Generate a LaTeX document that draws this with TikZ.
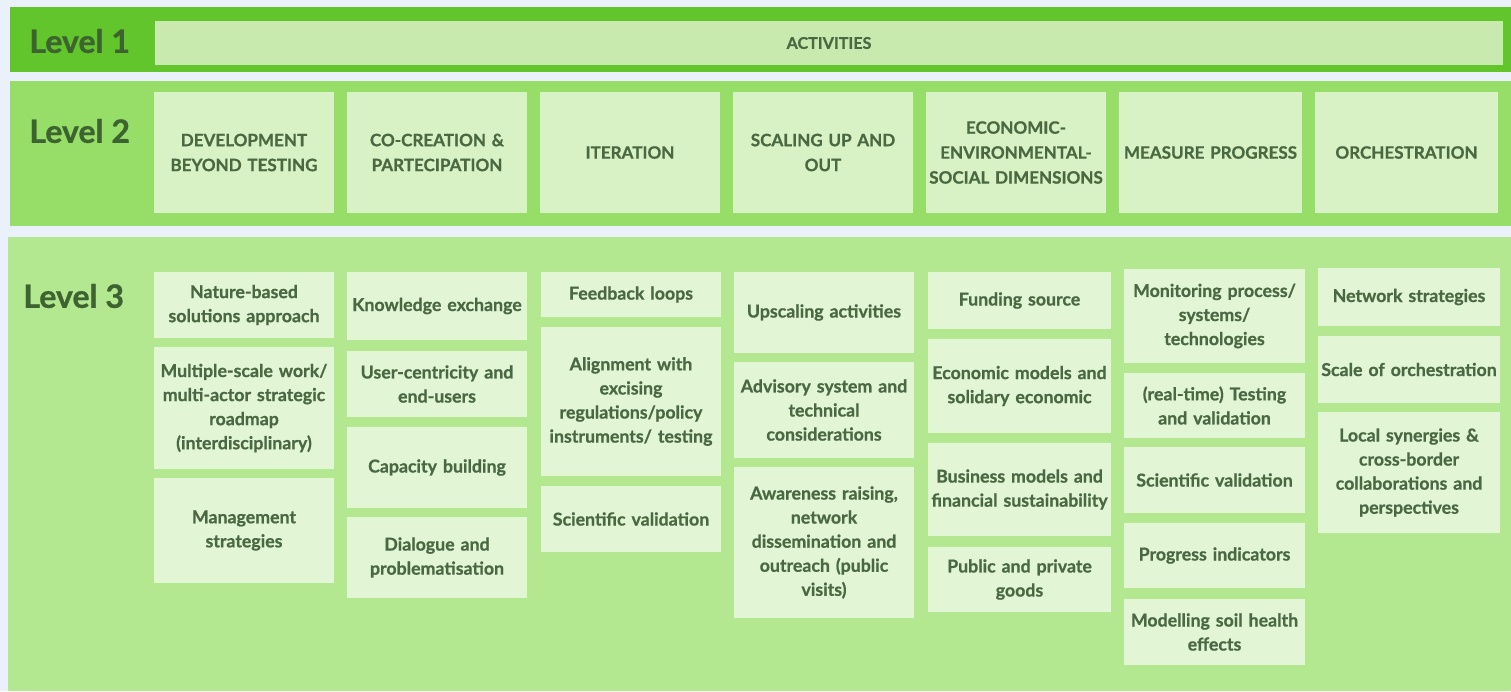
\documentclass[tikz,border=0pt]{standalone}
\usepackage{fontspec}
\setmainfont{Lato}[BoldFeatures={FakeBold=0.8}]
\definecolor{pagebg}{HTML}{EAF1FA}
\definecolor{bandone}{HTML}{62C52B}
\definecolor{boxone}{HTML}{C8EAAE}
\definecolor{bandtwo}{HTML}{97DE68}
\definecolor{boxtwo}{HTML}{D8F2C5}
\definecolor{bandthree}{HTML}{B3E890}
\definecolor{boxthree}{HTML}{E2F6D6}
\definecolor{txtgreen}{HTML}{4A6841}
\definecolor{lblgreen}{HTML}{3D6330}

\begin{document}
\begin{tikzpicture}[x=0.02cm, y=-0.02cm,
            level/.style={anchor=west, inner sep=0pt, text=lblgreen, font=\bfseries\fontsize{18.3}{20}\selectfont},
            head/.style={rectangle, fill=boxtwo, minimum width=3.6cm, minimum height=2.42cm, text width=3.6cm, inner sep=0pt, align=center, text=txtgreen, font=\bfseries\fontsize{9.7}{14.2}\selectfont},
            item/.style={rectangle, fill=boxthree, minimum width=3.6cm, text width=3.6cm, inner sep=0pt, align=center, text=txtgreen, font=\bfseries\fontsize{10.1}{13.7}\selectfont},
            wide/.style={minimum width=3.66cm, text width=3.66cm}
            ]

            % Page and bands
            \useasboundingbox[fill=pagebg] (0,0) rectangle (1511,691);
            \fill[bandone] (10,7) rectangle (1511,72);
            \fill[bandtwo] (10,81) rectangle (1511,226);
            \fill[bandthree] (8,237) rectangle (1511,691);

            % Level labels
            \node[level] (lone) at (29,41) {Level 1};
            \node[level] (ltwo) at (29,131) {Level 2};
            \node[level] (lthree) at (23,296) {Level 3};

            % Level 1
            \node[rectangle, fill=boxone, minimum width=26.96cm, minimum height=0.88cm, text=txtgreen, font=\bfseries\fontsize{9.2}{10}\selectfont] (activities) at (829,43) {ACTIVITIES};

            % Level 2
            \node[head] (dev) at (244,152.5) {DEVELOPMENT\\BEYOND TESTING};
            \node[head] (cocreation) at (437,152.5) {CO-CREATION \&\\PARTECIPATION};
            \node[head] (iteration) at (630,152.5) {ITERATION};
            \node[head] (scaling) at (823,152.5) {SCALING UP AND\\OUT};
            \node[head] (dimensions) at (1016,152.5) {ECONOMIC-\\ENVIRONMENTAL-\\SOCIAL DIMENSIONS};
            \node[head, wide] (measure) at (1210.5,152.5) {MEASURE PROGRESS};
            \node[head, wide] (orchestration) at (1406.5,152.5) {ORCHESTRATION};

            % Level 3, development beyond testing
            \node[item, minimum height=1.32cm] (nature) at (244,305) {Nature-based\\solutions approach};
            \node[item, minimum height=2.44cm] (multiscale) at (244,408) {Multiple-scale work/\\multi-actor strategic\\roadmap\\(interdisciplinary)};
            \node[item, minimum height=2.1cm] (management) at (244,530.5) {Management\\strategies};

            % Level 3, co-creation
            \node[item, minimum height=1.36cm] (knowledge) at (437,306) {Knowledge exchange};
            \node[item, minimum height=1.32cm] (usercentric) at (437,384) {User-centricity and\\end-users};
            \node[item, minimum height=1.62cm] (capacity) at (437,467.5) {Capacity building};
            \node[item, minimum height=1.62cm] (dialogue) at (437,557.5) {Dialogue and\\problematisation};

            % Level 3, iteration
            \node[item, minimum height=0.9cm] (feedback) at (631,294.5) {Feedback loops};
            \node[item, minimum height=2.98cm] (alignment) at (631,401.5) {Alignment with\\excising\\regulations/policy\\instruments/ testing};
            \node[item, minimum height=1.32cm] (scivalone) at (631,519) {Scientific validation};

            % Level 3, scaling up and out
            \node[item, minimum height=1.62cm] (upscaling) at (824,312.5) {Upscaling activities};
            \node[item, minimum height=1.92cm] (advisory) at (824,410) {Advisory system and\\technical\\considerations};
            \node[item, minimum height=3.02cm] (awareness) at (824,542.5) {Awareness raising,\\network\\dissemination and\\outreach (public\\visits)};

            % Level 3, dimensions
            \node[item, wide, minimum height=1.14cm] (funding) at (1019.5,300.5) {Funding source};
            \node[item, wide, minimum height=1.88cm] (ecomodels) at (1019.5,386) {Economic models and\\solidary economic};
            \node[item, wide, minimum height=1.86cm] (busmodels) at (1019.5,489.5) {Business models and\\financial sustainability};
            \node[item, wide, minimum height=1.3cm] (goods) at (1019.5,579.5) {Public and private\\goods};

            % Level 3, measure progress
            \node[item, minimum width=3.62cm, minimum height=1.88cm] (monitoring) at (1214.5,316) {Monitoring process/\\systems/\\technologies};
            \node[item, minimum width=3.62cm, minimum height=1.3cm] (realtime) at (1214.5,405.5) {(real-time) Testing\\and validation};
            \node[item, minimum width=3.62cm, minimum height=1.32cm] (scivaltwo) at (1214.5,480) {Scientific validation};
            \node[item, minimum width=3.62cm, minimum height=1.3cm] (indicators) at (1214.5,555.5) {Progress indicators};
            \node[item, minimum width=3.62cm, minimum height=1.32cm] (modelling) at (1214.5,632) {Modelling soil health\\effects};

            % Level 3, orchestration
            \node[item, minimum width=3.64cm, minimum height=1.16cm] (network) at (1409,297) {Network strategies};
            \node[item, minimum width=3.64cm, minimum height=1.34cm] (scale) at (1409,369.5) {Scale of orchestration};
            \node[item, minimum width=3.64cm, minimum height=2.42cm] (synergies) at (1409,472.5) {Local synergies \&\\cross-border\\collaborations and\\perspectives};

        \end{tikzpicture}
\end{document}
